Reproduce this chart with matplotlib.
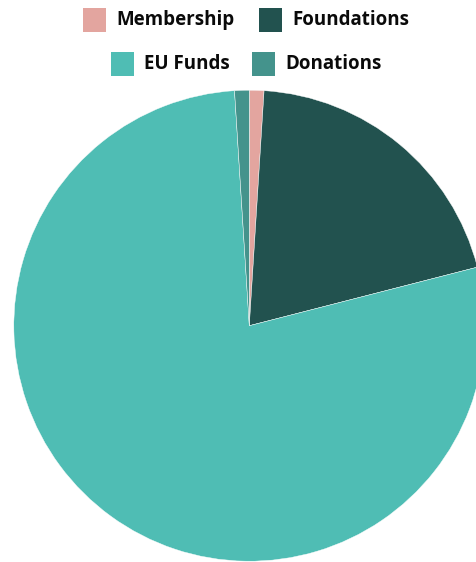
import matplotlib.pyplot as plt
from matplotlib.patches import Rectangle

labels = ['Membership', 'Foundations', 'EU Funds', 'Donations']
values = [1, 20, 78, 1]
colors = ['#e3a59f', '#22524f', '#4fbdb4', '#44938c']

W, H = 477, 562
fig = plt.figure(figsize=(W / 100, H / 100), dpi=100)

# pie geometry in pixels
cx, cy, r = 249.3, 325.7, 235.5
ax = fig.add_axes([0, 0, 1, 1])
ax.pie(values, colors=colors, startangle=90, counterclock=False, radius=1,
       wedgeprops={'edgecolor': 'white', 'linewidth': 0.3})
ax.set_xlim(-cx / r, (W - cx) / r)
ax.set_ylim(-(H - cy) / r, cy / r)
ax.axis('off')

# legend laid out like the original: two centred rows
legend_pos = [(83, 20), (259, 20), (111, 64), (252, 64)]  # box left x, row centre y (px)
box = 23
for (lx, ly), lab, col in zip(legend_pos, labels, colors):
    fig.patches.append(Rectangle((lx / W, (H - ly - box / 2) / H), box / W, box / H,
                                 transform=fig.transFigure, facecolor=col,
                                 edgecolor='none'))
    fig.text((lx + box + 10) / W, (H - ly) / H, lab, ha='left', va='center',
             fontsize=13.5, fontweight='bold', family='Open Sans', color='#0a0a0a')

fig.savefig('out.png', dpi=100)
